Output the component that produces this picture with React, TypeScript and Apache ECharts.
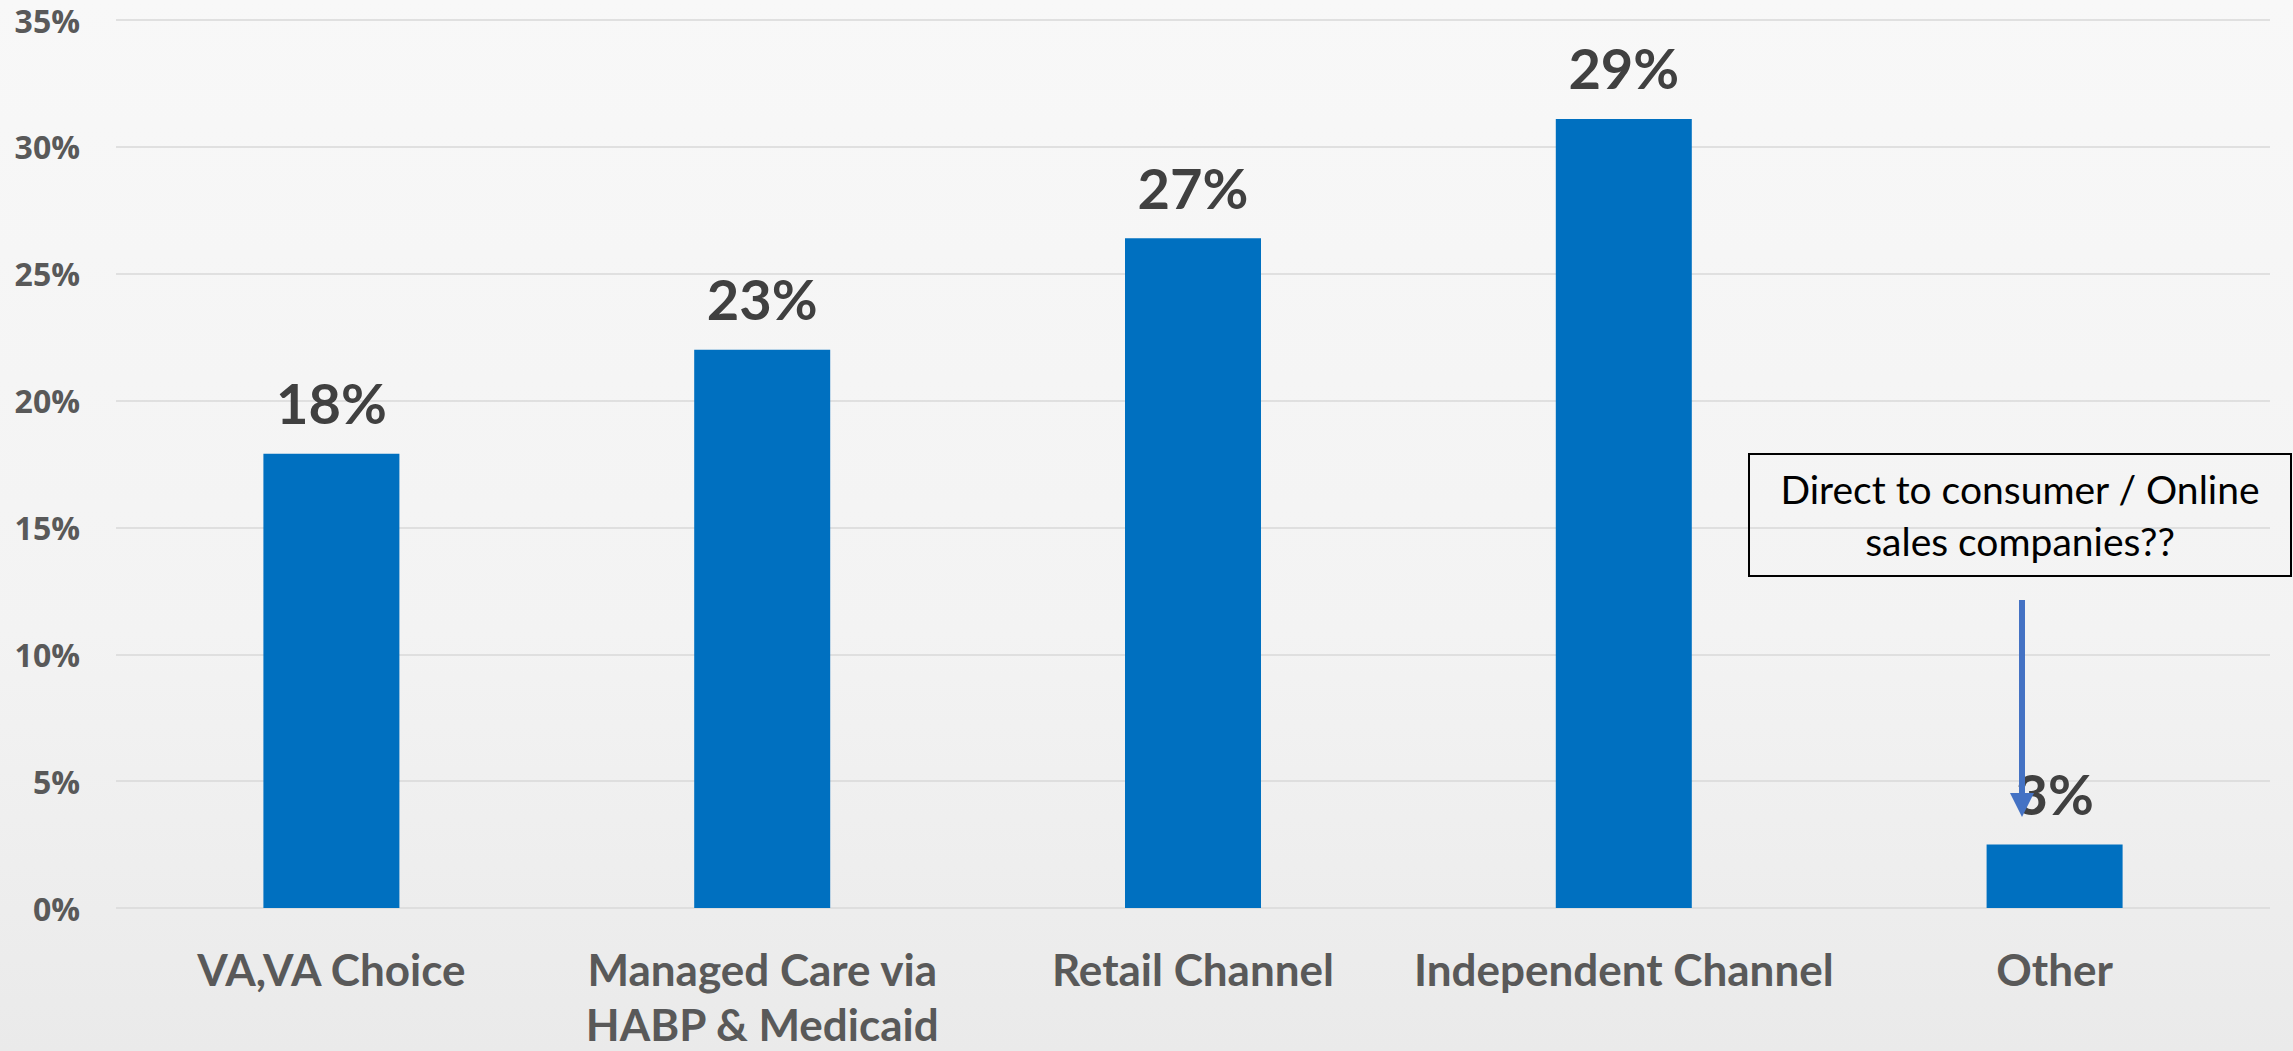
import React, { useEffect, useRef } from "react";
import * as echarts from "echarts";

const categories = [
  "VA,VA Choice",
  "Managed Care via\nHABP & Medicaid",
  "Retail Channel",
  "Independent Channel",
  "Other",
];
const values = [17.9, 22.0, 26.4, 31.1, 2.5];
const valueLabels = ["18%", "23%", "27%", "29%", "3%"];
const yTicks = { min: 0, max: 35, interval: 5 };
const noteText = "Direct to consumer / Online\nsales companies??";

export default function App() {
  const ref = useRef<HTMLDivElement>(null);

  useEffect(() => {
    document.body.style.margin = "0";
    const chart = echarts.init(ref.current!, null, { renderer: "svg" });
    chart.setOption({
      animation: false,
      backgroundColor: {
        type: "linear",
        x: 0,
        y: 0,
        x2: 0,
        y2: 1,
        colorStops: [
          { offset: 0, color: "#f8f8f8" },
          { offset: 0.6, color: "#f3f3f3" },
          { offset: 1, color: "#eaeaea" },
        ],
      },
      textStyle: { fontFamily: "Lato" },
      grid: {
        left: 116,
        right: 23,
        top: 20,
        bottom: 143,
        containLabel: false,
        outerBoundsMode: "none",
      },
      xAxis: {
        type: "category",
        data: categories,
        axisLine: { show: false },
        axisTick: { show: false },
        axisLabel: {
          interval: 0,
          margin: 33,
          color: "#595959",
          fontFamily: "Lato",
          fontWeight: "bold",
          fontSize: 44,
          lineHeight: 55,
          verticalAlign: "top",
        },
      },
      yAxis: {
        type: "value",
        min: yTicks.min,
        max: yTicks.max,
        interval: yTicks.interval,
        axisLine: { show: false },
        axisTick: { show: false },
        splitLine: { lineStyle: { color: "#d9d9d9", width: 1.5 } },
        axisLabel: {
          margin: 36,
          color: "#595959",
          fontFamily: "Open Sans",
          fontWeight: "bold",
          fontSize: 32,
          formatter: (v: number) => `${v}%`,
        },
      },
      series: [
        {
          type: "bar",
          data: values,
          barWidth: 136,
          itemStyle: { color: "#0070C0" },
          label: {
            show: true,
            position: "top",
            distance: 23,
            color: "#404040",
            fontFamily: "Lato",
            fontWeight: "bold",
            fontSize: 56,
            formatter: (p: any) => valueLabels[p.dataIndex],
          },
        },
      ],
      graphic: [
        {
          type: "rect",
          z: 100,
          shape: { x: 1749, y: 454, width: 542, height: 122 },
          style: { fill: "none", stroke: "#000000", lineWidth: 2 },
        },
        {
          type: "text",
          z: 100,
          x: 2020,
          y: 515,
          style: {
            text: noteText,
            fill: "#000000",
            fontFamily: "Lato",
            fontSize: 39,
            lineHeight: 52,
            align: "center",
            verticalAlign: "middle",
          },
        },
        {
          type: "line",
          z: 100,
          shape: { x1: 2022, y1: 600, x2: 2022, y2: 796 },
          style: { stroke: "#4472C4", lineWidth: 6 },
        },
        {
          type: "polygon",
          z: 100,
          shape: {
            points: [
              [2010, 793],
              [2034, 793],
              [2022, 817],
            ],
          },
          style: { fill: "#4472C4" },
        },
      ],
    });
    return () => chart.dispose();
  }, []);

  return <div ref={ref} style={{ width: 2293, height: 1051 }} />;
}
